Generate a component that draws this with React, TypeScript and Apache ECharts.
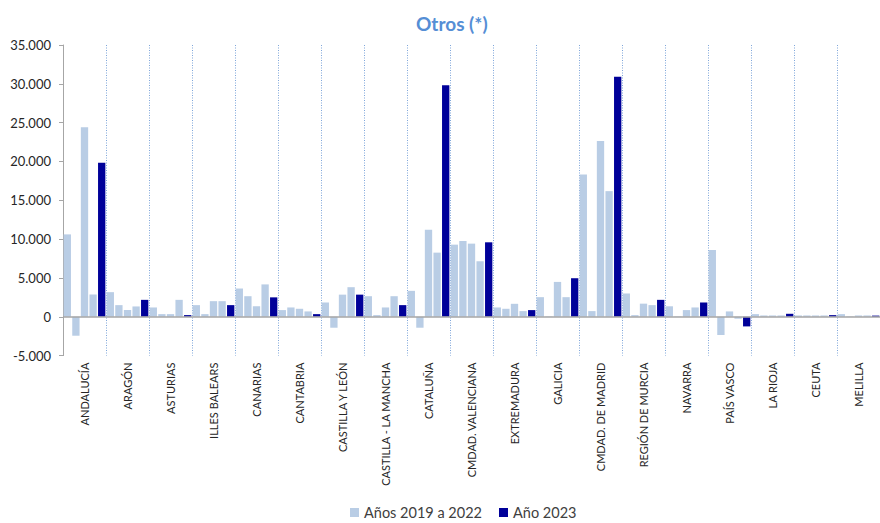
import React, { useEffect, useRef } from "react";
import * as echarts from "echarts";

const categories = [
  "ANDALUCÍA", "ARAGÓN", "ASTURIAS", "ILLES BALEARS", "CANARIAS", "CANTABRIA",
  "CASTILLA Y LEÓN", "CASTILLA - LA MANCHA", "CATALUÑA", "CMDAD. VALENCIANA",
  "EXTREMADURA", "GALICIA", "CMDAD. DE MADRID", "REGIÓN DE MURCIA", "NAVARRA",
  "PAÍS VASCO", "LA RIOJA", "CEUTA", "MELILLA",
];

const y2019 = [10610, 3170, 1200, 1500, 3640, 860, 1840, 2650, 3340, 9290, 1200, 2525, 18320, 3000, 1350, 8600, 340, 170, 340];
const y2020 = [-2440, 1500, 340, 340, 2650, 1200, -1410, 214, -1410, 9760, 1030, 50, 730, 214, 50, -2350, 170, 170, 50];
const y2021 = [24410, 860, 340, 2010, 1370, 1030, 2850, 1200, 11210, 9420, 1670, 4490, 22640, 1690, 860, 690, 170, 170, 170];
const y2022 = [2870, 1330, 2180, 2010, 4170, 690, 3810, 2650, 8260, 7150, 730, 2525, 16180, 1500, 1200, -250, 170, 170, 170];
const y2023 = [19840, 2180, 214, 1500, 2500, 340, 2850, 1500, 29830, 9590, 860, 4965, 30900, 2180, 1840, -1240, 385, 210, 150];

const seriesLight = "Años 2019 a 2022";
const seriesDark = "Año 2023";

const yMin = -5000;
const yMax = 35000;
const yStep = 5000;

const FONT = "Lato";

function fmt(v: number): string {
  const s = Math.abs(v).toString().replace(/\B(?=(\d{3})+(?!\d))/g, ".");
  return (v < 0 ? "-" : "") + s;
}

export default function App() {
  const ref = useRef<HTMLDivElement>(null);
  useEffect(() => {
    if (!ref.current) return;
    const chart = echarts.init(ref.current, undefined, { renderer: "svg" });
    const light = "#B9CDE5";
    const dark = "#000099";
    const lightSeries = [y2019, y2020, y2021, y2022].map((d) => ({
      name: seriesLight,
      type: "bar" as const,
      data: d,
      barGap: "17.5%",
      barCategoryGap: "3%",
      itemStyle: { color: light },
    }));
    chart.setOption({
      animation: false,
      title: {
        text: "Otros (*)",
        left: 411,
        top: 9,
        textStyle: { fontFamily: FONT, fontSize: 19, fontWeight: "bold", color: "#558ED5" },
      },
      legend: {
        data: [seriesLight, seriesDark],
        left: 345,
        top: 500,
        icon: "rect",
        itemWidth: 9,
        itemHeight: 9,
        itemGap: 17,
        textStyle: { fontFamily: FONT, fontSize: 14.5, color: "#404040" },
      },
      grid: { left: 63, top: 45, width: 825, height: 310.6, containLabel: false },
      xAxis: {
        type: "category",
        data: categories,
        position: "bottom",
        axisLine: { show: false, onZero: false },
        axisTick: { show: false },
        axisLabel: {
          rotate: 90,
          interval: 0,
          margin: 7,
          fontFamily: FONT,
          fontSize: 11,
          color: "#262626",
        },
        splitLine: {
          show: true,
          interval: 0,
          lineStyle: { type: [1, 1.5], color: "#7FA6DA", width: 1 },
        },
      },
      yAxis: {
        type: "value",
        min: yMin,
        max: yMax,
        interval: yStep,
        axisLine: { show: true, lineStyle: { color: "#A6A6A6", width: 1 } },
        axisTick: { show: true, length: 4, lineStyle: { color: "#A6A6A6" } },
        splitLine: { show: false },
        axisLabel: {
          formatter: (v: number) => fmt(v),
          margin: 12,
          fontFamily: FONT,
          fontSize: 13,
          color: "#262626",
        },
      },
      series: [
        ...lightSeries,
        {
          name: seriesDark,
          type: "bar",
          data: y2023,
          barGap: "17.5%",
          barCategoryGap: "3%",
          itemStyle: { color: dark },
          markLine: {
            silent: true,
            symbol: "none",
            label: { show: false },
            lineStyle: { type: "solid", color: "#A6A6A6", width: 1.5 },
            data: [{ yAxis: 0 }],
          },
        },
      ],
    });
    return () => chart.dispose();
  }, []);
  return (
    <div
      ref={ref}
      style={{ position: "fixed", left: 0, top: 0, width: 880, height: 523, background: "#ffffff" }}
    />
  );
}
